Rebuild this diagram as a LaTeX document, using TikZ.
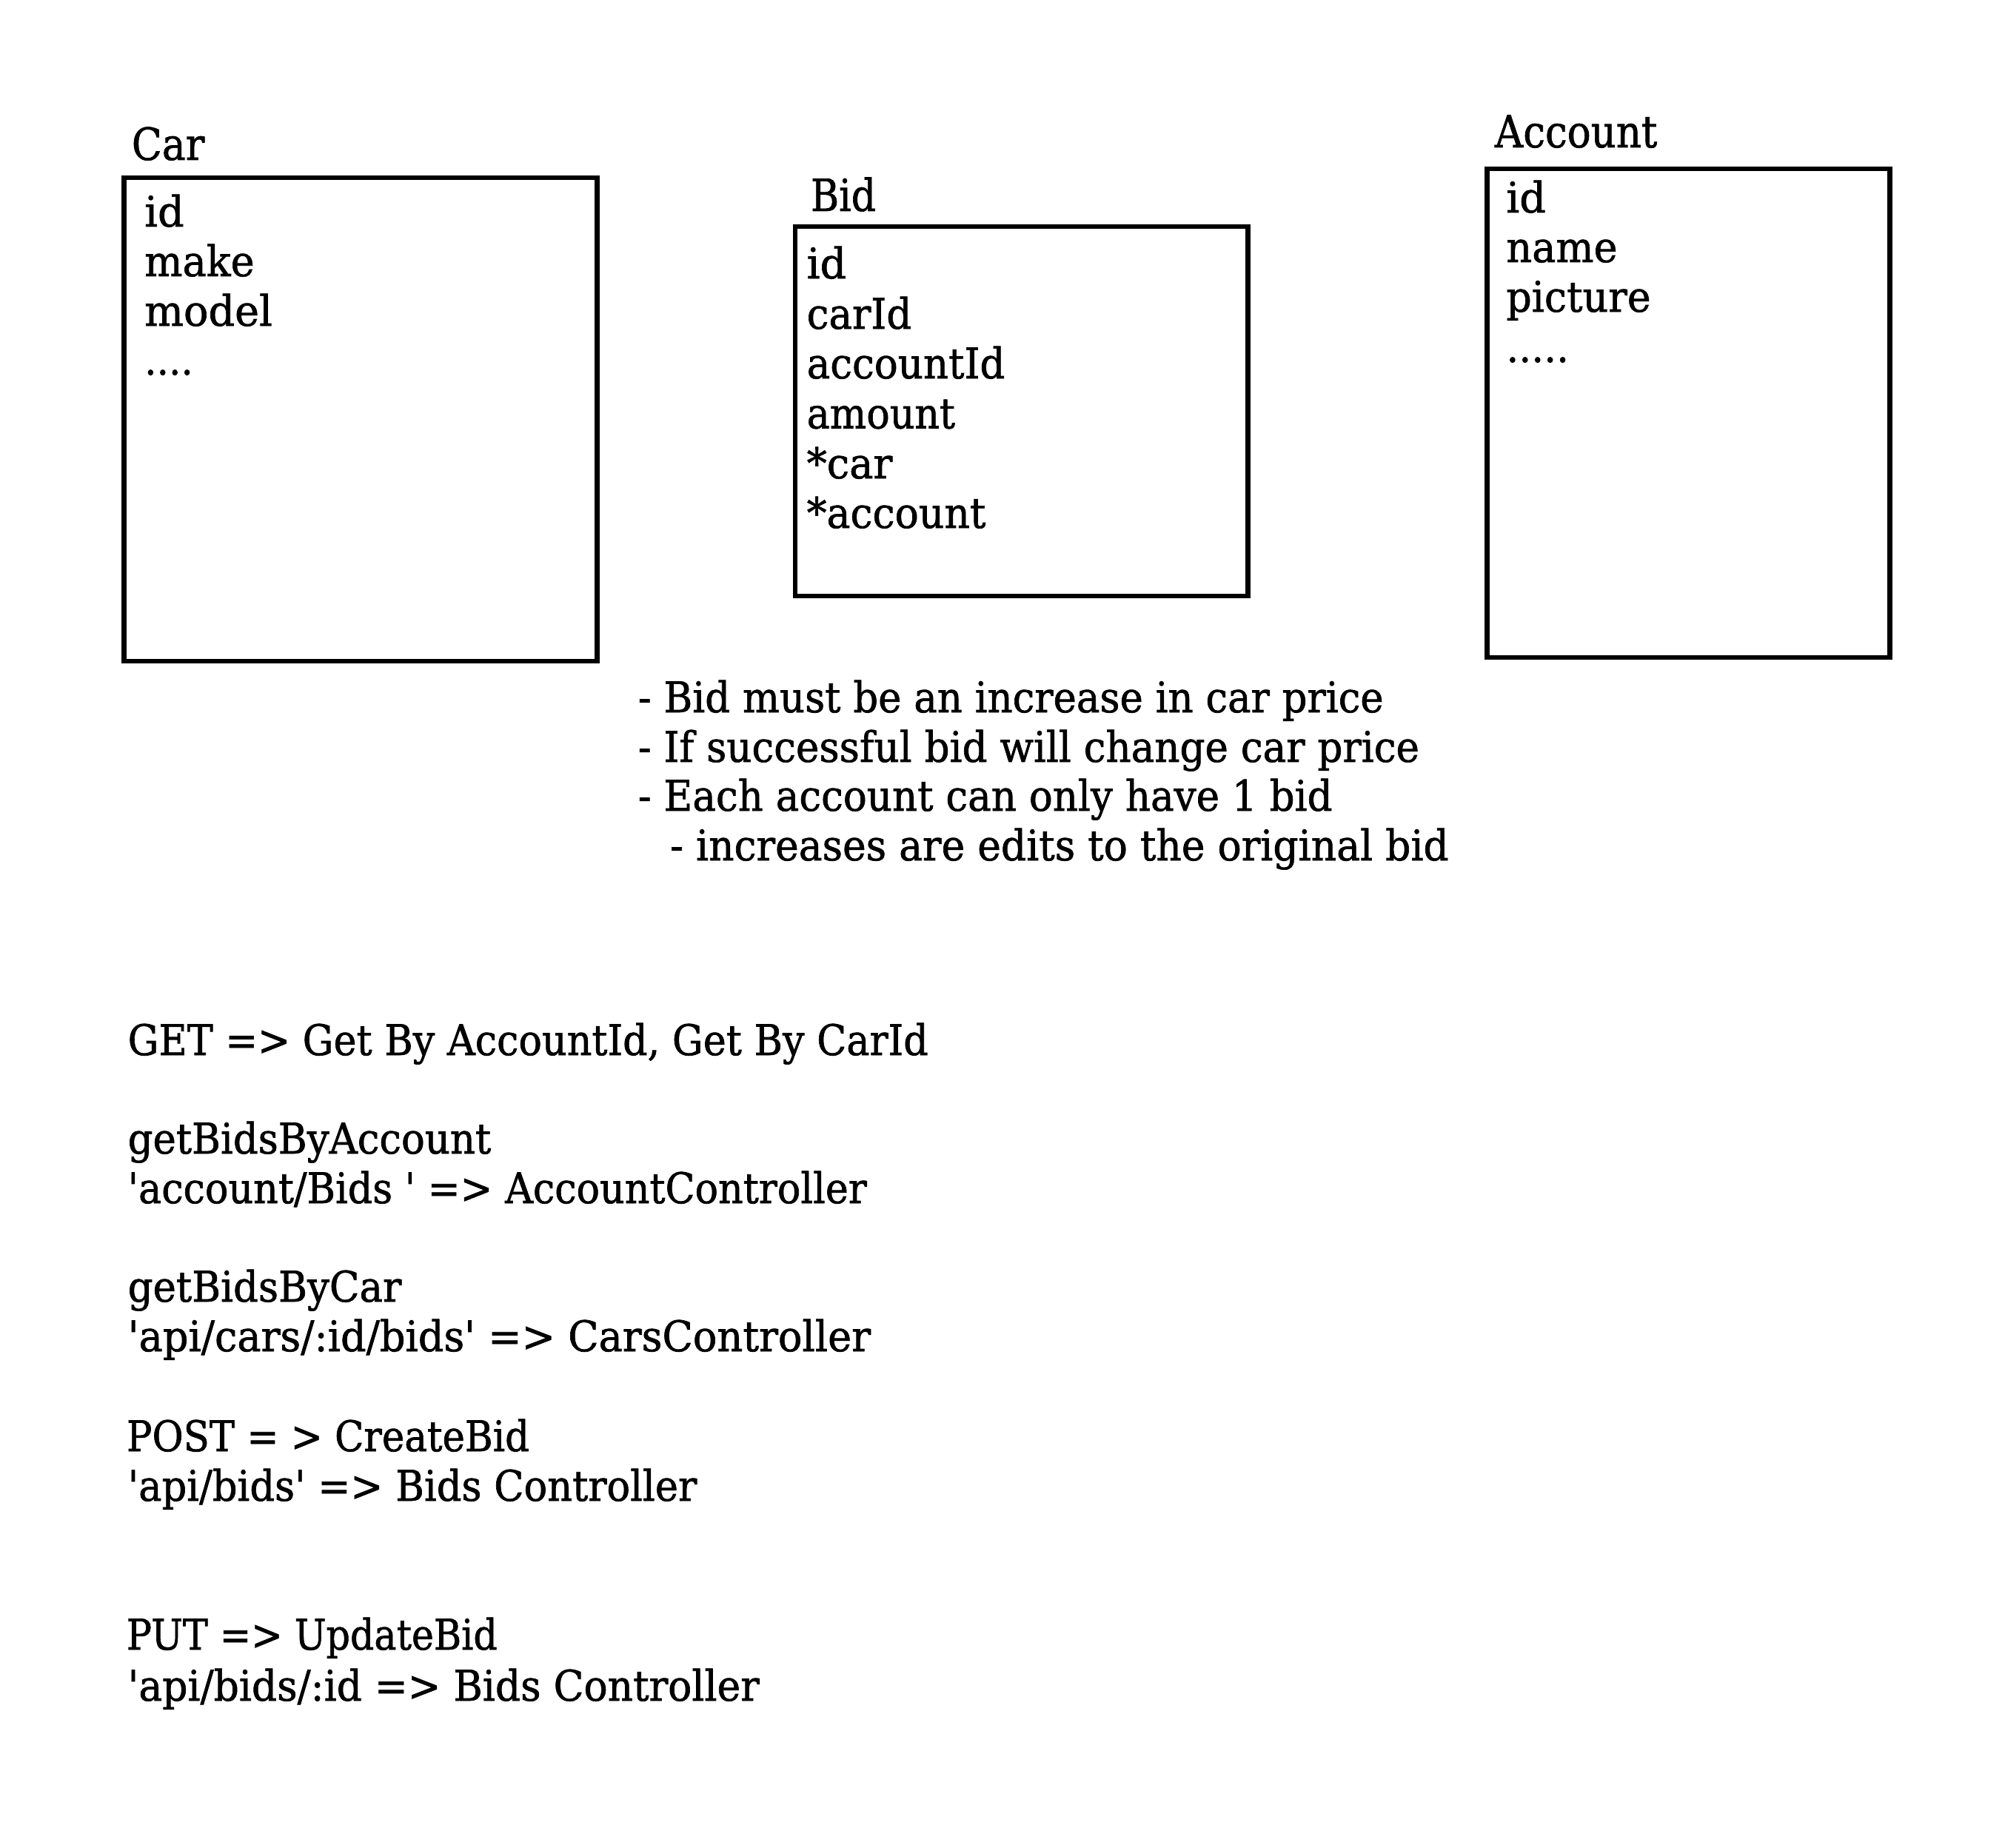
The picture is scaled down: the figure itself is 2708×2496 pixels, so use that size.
\documentclass[tikz,border=0pt]{standalone}
\usepackage{fontspec}
\usepackage{graphicx}
\setmainfont{DejaVu Serif}[FakeBold=1.2]
\newlength\fitlen
\newcommand\fitw[2]{\settowidth{\fitlen}{#2}\pgfmathsetmacro\fitr{#1/\fitlen}\scalebox{\fitr}[1]{#2}}
\newcommand\q{\textquotesingle}
\begin{document}
\begin{tikzpicture}[x=1pt,y=-1pt,
  txt/.style={anchor=base west,inner sep=0pt,outer sep=0pt,font=\fontsize{57}{68}\selectfont},
  ttl/.style={anchor=base west,inner sep=0pt,outer sep=0pt,font=\fontsize{60}{70}\selectfont},
  tbox/.style={draw,line width=6.5pt,inner sep=0pt,outer sep=0pt}]
\useasboundingbox (0,0) rectangle (2708,2496);
% boxes
\node[tbox,minimum width=639pt,minimum height=653pt] (carbox) at (487,566.5) {};
\node[tbox,minimum width=611.6pt,minimum height=499pt] (bidbox) at (1379.8,555.3) {};
\node[tbox,minimum width=544pt,minimum height=659.7pt] (accbox) at (2280.5,557.9) {};
% titles
\node[ttl] (cart) at (177.9,216) {\fitw{98.4}{Car}};
\node[ttl] (bidt) at (1095,285) {\fitw{88}{Bid}};
\node[ttl] (acct) at (2019,199) {\fitw{219.3}{Account}};
% car fields
\node[txt] (c1) at (195.2,306) {\fitw{53.5}{id}};
\node[txt] (c2) at (195.2,373) {\fitw{148.5}{make}};
\node[txt] (c3) at (195.2,440) {\fitw{172.7}{model}};
\node[txt] (c4) at (195.2,506) {\fitw{65.6}{....}};
% bid fields
\node[txt] (b1) at (1089.7,376) {\fitw{53.5}{id}};
\node[txt] (b2) at (1089.7,444) {\fitw{141.6}{carId}};
\node[txt] (b3) at (1089.7,511) {\fitw{267.7}{accountId}};
\node[txt] (b4) at (1089.7,578.5) {\fitw{200.3}{amount}};
\node[txt] (b5) at (1089.7,646) {\fitw{115.7}{*car}};
\node[txt] (b6) at (1089.7,713) {\fitw{241.8}{*account}};
% account fields
\node[txt] (a1) at (2034.4,287) {\fitw{53.5}{id}};
\node[txt] (a2) at (2034.4,354) {\fitw{150.2}{name}};
\node[txt] (a3) at (2034.4,421) {\fitw{195.2}{picture}};
\node[txt] (a4) at (2034.4,489) {\fitw{84.6}{.....}};
% notes
\node[txt] (n1) at (861.8,962) {\fitw{1006.9}{- Bid must be an increase in car price}};
\node[txt] (n2) at (861.8,1029) {\fitw{1055.2}{- If successful bid will change car price}};
\node[txt] (n3) at (861.8,1095) {\fitw{937.8}{- Each account can only have 1 bid}};
\node[txt] (n4) at (905,1162) {\fitw{1051.7}{- increases are edits to the original bid}};
% routes
\node[txt] (r1) at (172.7,1425) {\fitw{1081}{GET => Get By AccountId, Get By CarId}};
\node[txt] (r2) at (172.7,1558) {\fitw{490.5}{getBidsByAccount}};
\node[txt] (r3) at (172.7,1625) {\fitw{998.2}{\q account/Bids \q{} => AccountController}};
\node[txt] (r4) at (172.7,1758) {\fitw{369.6}{getBidsByCar}};
\node[txt] (r5) at (172.7,1825) {\fitw{1003.4}{\q api/cars/:id/bids\q{} => CarsController}};
\node[txt] (r6) at (171,1960) {\fitw{544}{POST = > CreateBid}};
\node[txt] (r7) at (172.7,2027) {\fitw{768.5}{\q api/bids\q{} => Bids Controller}};
\node[txt] (r8) at (171,2228) {\fitw{500.8}{PUT => UpdateBid}};
\node[txt] (r9) at (172.7,2297) {\fitw{853.1}{\q api/bids/:id => Bids Controller}};
\end{tikzpicture}
\end{document}
